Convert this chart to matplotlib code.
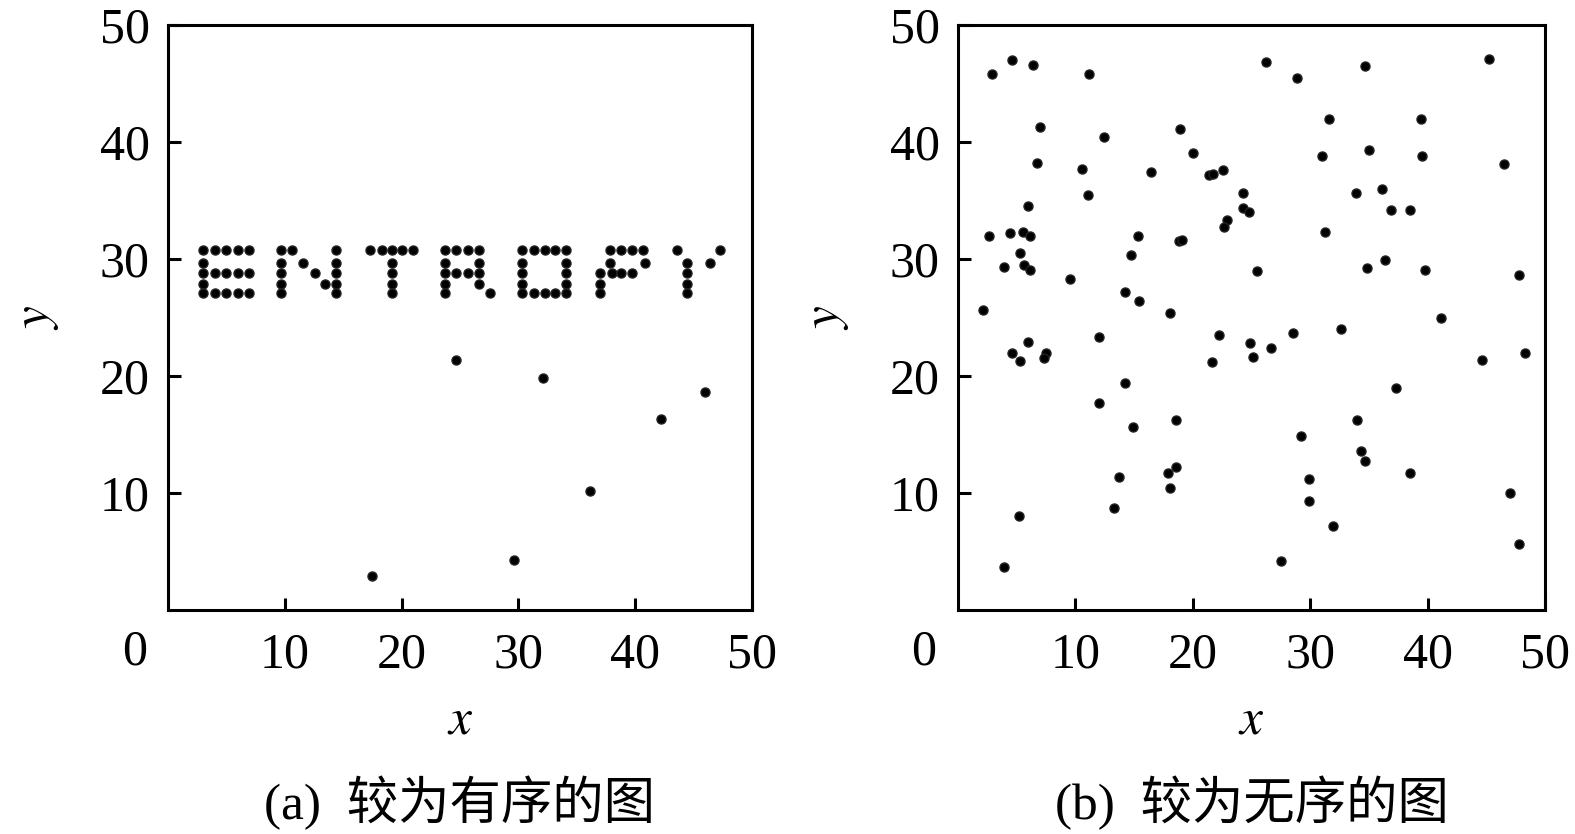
import matplotlib.pyplot as plt

# Puntos del texto "ENTROPY" (figura a)
entropy_x = [3.0, 4.0, 5.0, 6.0, 6.9, 3.0, 3.0, 4.0, 5.0, 6.0, 6.9, 3.0, 3.0, 4.0, 5.0, 6.0, 6.9,
             9.7, 9.7, 9.7, 9.7, 9.7, 10.6, 11.6, 12.6, 13.4, 14.4, 14.4, 14.4, 14.4, 14.4,
             17.3, 18.3, 19.2, 20.0, 21.0, 19.2, 19.2, 19.2, 19.2,
             23.7, 24.7, 25.7, 26.6, 23.7, 26.6, 23.7, 24.7, 25.7, 26.6, 23.7, 26.6, 23.7, 27.6,
             30.3, 31.3, 32.3, 33.1, 34.1, 30.3, 34.1, 30.3, 34.1, 30.3, 34.1,
             30.3, 31.3, 32.3, 33.1, 34.1,
             37.8, 38.8, 39.7, 40.7, 37.8, 40.8, 37.0, 38.0, 38.8, 39.7, 37.0, 37.0,
             43.6, 47.3, 46.4, 44.4, 44.4, 44.4, 44.4]
entropy_y = [30.8, 30.8, 30.8, 30.8, 30.8, 29.7, 28.8, 28.8, 28.8, 28.8, 28.8, 27.9, 27.1, 27.1, 27.1, 27.1, 27.1,
             30.8, 29.7, 28.8, 27.9, 27.1, 30.8, 29.7, 28.8, 27.9, 30.8, 29.7, 28.8, 27.9, 27.1,
             30.8, 30.8, 30.8, 30.8, 30.8, 29.7, 28.8, 27.9, 27.1,
             30.8, 30.8, 30.8, 30.8, 29.7, 29.7, 28.8, 28.8, 28.8, 28.8, 27.9, 27.9, 27.1, 27.1,
             30.8, 30.8, 30.8, 30.8, 30.8, 29.7, 29.7, 28.8, 28.8, 27.9, 27.9,
             27.1, 27.1, 27.1, 27.1, 27.1,
             30.8, 30.8, 30.8, 30.8, 29.7, 29.7, 28.8, 28.8, 28.8, 28.8, 27.9, 27.1,
             30.8, 30.8, 29.7, 29.7, 28.8, 27.9, 27.1]

# Puntos sueltos de la figura a
loose_x = [17.5, 24.7, 32.1, 36.1, 29.6, 42.2, 46.0]
loose_y = [2.9, 21.4, 19.8, 10.2, 4.3, 16.3, 18.6]

# Puntos de la figura b (desordenada)
random_x = [2.9, 4.6, 6.4, 11.2, 7.0, 12.4, 18.9, 6.7, 10.6, 11.1, 16.4, 20.0, 21.4, 21.7,
            22.6, 24.3, 24.3, 24.8, 22.9, 22.7, 6.0, 2.6, 4.4, 5.5, 6.1, 15.3, 18.8, 19.1,
            5.3, 3.9, 5.6, 6.1, 9.5, 14.7, 14.2, 15.4, 18.1, 2.1, 25.5,
            26.2, 28.9, 34.7, 45.2, 31.6, 39.4, 31.0, 35.0, 39.5, 46.5, 33.9, 36.1, 36.9,
            38.5, 31.3, 34.8, 36.4, 39.8, 47.8, 41.1,
            6.0, 4.6, 5.3, 7.5, 7.3, 12.0, 22.2, 24.9, 25.1, 21.6, 14.2, 12.0, 14.9, 18.6,
            18.6, 17.9, 18.1, 13.7, 13.3, 5.2, 3.9,
            26.7, 28.5, 32.6, 44.6, 48.3, 37.3, 34.0, 29.2, 34.3, 34.7, 38.5, 29.9, 29.9,
            31.9, 27.5, 47.0, 47.8]
random_y = [45.8, 47.0, 46.6, 45.8, 41.3, 40.4, 41.1, 38.2, 37.7, 35.5, 37.4, 39.1, 37.2, 37.3,
            37.6, 35.6, 34.4, 34.0, 33.3, 32.7, 34.5, 32.0, 32.2, 32.3, 32.0, 32.0, 31.5, 31.6,
            30.5, 29.3, 29.5, 29.1, 28.3, 30.3, 27.2, 26.4, 25.4, 25.6, 29.0,
            46.8, 45.5, 46.5, 47.1, 42.0, 42.0, 38.8, 39.3, 38.8, 38.1, 35.6, 36.0, 34.2,
            34.2, 32.3, 29.2, 29.9, 29.1, 28.6, 25.0,
            22.9, 22.0, 21.3, 22.0, 21.5, 23.3, 23.5, 22.8, 21.6, 21.2, 19.4, 17.7, 15.6, 16.2,
            12.2, 11.7, 10.4, 11.4, 8.7, 8.0, 3.7,
            22.4, 23.7, 24.0, 21.4, 22.0, 19.0, 16.2, 14.9, 13.6, 12.7, 11.7, 11.2, 9.3,
            7.2, 4.2, 10.0, 5.6]

ticks = [10, 20, 30, 40, 50]
captions = ['(a)  较为有序的图', '(b)  较为无序的图']

plt.rcParams['font.family'] = ['Liberation Serif', 'Noto Sans CJK SC', 'DejaVu Sans']
plt.rcParams['mathtext.fontset'] = 'stix'

fig = plt.figure(figsize=(15.75, 8.34), dpi=100)
ax1 = fig.add_axes([168 / 1575, 224 / 834, 584 / 1575, 585 / 834])
ax2 = fig.add_axes([958 / 1575, 224 / 834, 587 / 1575, 585 / 834])

ax1.plot(entropy_x, entropy_y, 'o', color='black', ms=6.5, mec='#222222')
ax1.plot(loose_x, loose_y, 'o', color='black', ms=6.5, mec='#222222')
ax2.plot(random_x, random_y, 'o', color='black', ms=6.5, mec='#222222')

for ax, cap in zip([ax1, ax2], captions):
    ax.set_xlim(0, 50)
    ax.set_ylim(0, 50)
    ax.set_xticks(ticks)
    ax.set_yticks(ticks)
    ax.tick_params(direction='in', length=9, width=2.2, labelsize=36, pad=13,
                   top=False, right=False)
    ax.tick_params(axis='x', pad=16)
    for s in ax.spines.values():
        s.set_linewidth(2.2)
    ax.text(-0.058, -0.072, '0', transform=ax.transAxes, ha='center', va='center', fontsize=36)
    ax.set_xlabel('$x$', fontsize=37, labelpad=14)
    ax.set_ylabel('$y$', fontsize=37, labelpad=28)
    ax.text(0.5, -0.33, cap, transform=ax.transAxes, ha='center', va='center', fontsize=37)

fig.savefig('out.png', dpi=100, facecolor='white')
